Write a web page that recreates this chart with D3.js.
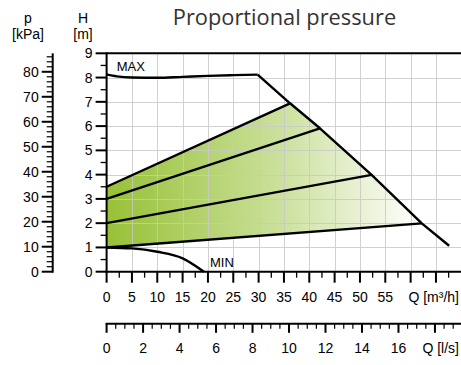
<!DOCTYPE html>
<html><head><meta charset="utf-8">
<script src="https://cdn.jsdelivr.net/npm/d3@7"></script>
<style>html,body{margin:0;padding:0;background:#fff;}svg{display:block;}</style>
</head><body>
<script>
// ---- data ----
const title = "Proportional pressure";
const flowTicks = [0,5,10,15,20,25,30,35,40,45,50,55];
const flowLpsTicks = [0,2,4,6,8,10,12,14,16];
const headTicks = [0,1,2,3,4,5,6,7,8,9];
const kpaTicks = [0,10,20,30,40,50,60,70,80];
// MAX curve (Q m3/h, H m)
const maxQ = [0,2,5,10,15,20,25,29.8,36.2,42.1,52.3,62.2,67.6];
const maxH = [8.13,8.05,8.0,7.99,8.03,8.07,8.1,8.12,6.94,5.91,3.99,1.99,1.07];
// MIN curve
const minQ = [0,5,10,15,19.2];
const minH = [1,0.96,0.82,0.55,0];
// proportional pressure lines: start and end points
const propStartH = [3.5,3.0,2.0,1.0];
const propEndQ = [36.2,42.1,52.3,62.2];
const propEndH = [6.94,5.91,3.99,1.99];

// ---- layout ----
const W=461,H=365;
const svg=d3.select("body").append("svg").attr("width",W).attr("height",H);
const x=d3.scaleLinear().domain([0,70]).range([106.6,461.3]);
const y=d3.scaleLinear().domain([0,9]).range([271.7,53.3]);
const yk=d3.scaleLinear().domain([0,87.4]).range([271.7,53.3]);
const xl=d3.scaleLinear().domain([0,70/3.6]).range([106.6,461.3]);
const font="'Liberation Sans', Arial, sans-serif";

// gradient
const defs=svg.append("defs");
const g=defs.append("linearGradient").attr("id","grad").attr("gradientUnits","userSpaceOnUse")
  .attr("x1",x(0)).attr("x2",x(62.2)).attr("y1",0).attr("y2",0);
g.append("stop").attr("offset","0%").attr("stop-color","#97c136");
g.append("stop").attr("offset","50%").attr("stop-color","#c6dd92");
g.append("stop").attr("offset","100%").attr("stop-color","#ffffff");

// fill polygon: top prop line, down the max descending segment, bottom prop line back
const iTop = maxQ.indexOf(propEndQ[0]);
const iBot = maxQ.indexOf(propEndQ[3]);
const poly=[[0,propStartH[0]]];
for(let i=iTop;i<=iBot;i++) poly.push([maxQ[i],maxH[i]]);
poly.push([0,propStartH[3]]);
const line=d3.line().x(d=>x(d[0])).y(d=>y(d[1]));
svg.append("path").attr("d",line(poly)+"Z").attr("fill","url(#grad)");

// grid
const gg=svg.append("g").attr("stroke","#c9c9c9").attr("stroke-width",1).attr("opacity",0.85);
d3.range(5,70,5).forEach(v=>gg.append("line").attr("x1",Math.round(x(v))+0.5).attr("x2",Math.round(x(v))+0.5).attr("y1",y(9)).attr("y2",y(0)));
d3.range(1,9,1).forEach(v=>gg.append("line").attr("x1",x(0)).attr("x2",W).attr("y1",Math.round(y(v))+0.5).attr("y2",Math.round(y(v))+0.5));

// curves
const curveLine=d3.line().x(d=>x(d[0])).y(d=>y(d[1])).curve(d3.curveMonotoneX);
svg.append("path").attr("d",curveLine(maxQ.slice(0,8).map((q,i)=>[q,maxH[i]])))
  .attr("fill","none").attr("stroke","#000").attr("stroke-width",2.4);
svg.append("path").attr("d",line(maxQ.slice(7).map((q,i)=>[q,maxH[i+7]])))
  .attr("fill","none").attr("stroke","#000").attr("stroke-width",2.4).attr("stroke-linejoin","round");
svg.append("path").attr("d",curveLine(minQ.map((q,i)=>[q,minH[i]])))
  .attr("fill","none").attr("stroke","#000").attr("stroke-width",2.4);
propStartH.forEach((h,i)=>{
  svg.append("path").attr("d",line([[0,h],[propEndQ[i],propEndH[i]]]))
    .attr("fill","none").attr("stroke","#000").attr("stroke-width",2.4);
});

// labels MAX / MIN
svg.append("text").attr("x",x(2)).attr("y",70.5).attr("font-family",font).attr("font-size",13).text("MAX");
svg.append("text").attr("x",x(20.4)).attr("y",267.3).attr("font-family",font).attr("font-size",13).text("MIN");

// frame: top line
svg.append("line").attr("x1",x(0)).attr("x2",W).attr("y1",y(9)).attr("y2",y(9)).attr("stroke","#000").attr("stroke-width",2);

// y axis (m)
const yAx=svg.append("g").attr("transform",`translate(${x(0)},0)`);
yAx.append("line").attr("x1",0).attr("x2",0).attr("y1",y(9)-1).attr("y2",y(0)+1).attr("stroke","#000").attr("stroke-width",2);
d3.range(0,9.01,0.5).forEach(v=>{
  const maj=Number.isInteger(v);
  yAx.append("line").attr("x1",maj?-11:-6).attr("x2",0).attr("y1",y(v)).attr("y2",y(v)).attr("stroke","#000").attr("stroke-width",maj?2:1.3);
});
headTicks.forEach(v=>yAx.append("text").attr("x",-14).attr("y",y(v)).attr("dy","0.36em").attr("text-anchor","end")
  .attr("font-family",font).attr("font-size",14).text(v));

// kPa axis
const kx=52.7;
const kAx=svg.append("g").attr("transform",`translate(${kx},0)`);
kAx.append("line").attr("x1",0).attr("x2",0).attr("y1",yk(87.4)).attr("y2",yk(0)+1).attr("stroke","#000").attr("stroke-width",2);
d3.range(0,87,2).forEach(v=>{
  const maj=v%10===0;
  kAx.append("line").attr("x1",maj?-11:-6).attr("x2",0).attr("y1",yk(v)).attr("y2",yk(v)).attr("stroke","#000").attr("stroke-width",maj?2:1.2);
});
kpaTicks.forEach(v=>kAx.append("text").attr("x",-14).attr("y",yk(v)).attr("dy","0.36em").attr("text-anchor","end")
  .attr("font-family",font).attr("font-size",14).text(v));

// axis titles
[["p",28,23],["[kPa]",28,39],["H",83,23],["[m]",83,39]].forEach(t=>
  svg.append("text").attr("x",t[1]).attr("y",t[2]).attr("text-anchor","middle").attr("font-family",font).attr("font-size",14).text(t[0]));

// x axis (m3/h)
const xAx=svg.append("g").attr("transform",`translate(0,${y(0)})`);
xAx.append("line").attr("x1",x(0)-1).attr("x2",W).attr("y1",0).attr("y2",0).attr("stroke","#000").attr("stroke-width",2);
d3.range(0,70,2.5).forEach(v=>{
  const maj=v%5===0;
  xAx.append("line").attr("x1",x(v)).attr("x2",x(v)).attr("y1",0).attr("y2",maj?11:6).attr("stroke","#000").attr("stroke-width",maj?2:1.3);
});
flowTicks.forEach(v=>xAx.append("text").attr("x",x(v)).attr("y",30).attr("text-anchor","middle")
  .attr("font-family",font).attr("font-size",14).text(v));
xAx.append("text").attr("x",459).attr("y",30).attr("text-anchor","end").attr("font-family",font).attr("font-size",14).text("Q [m³/h]");

// x axis (l/s)
const ly=323.8;
const lAx=svg.append("g").attr("transform",`translate(0,${ly})`);
lAx.append("line").attr("x1",xl(0)-1).attr("x2",W).attr("y1",0).attr("y2",0).attr("stroke","#000").attr("stroke-width",2);
d3.range(0,19.5,0.5).forEach(v=>{
  const maj=v%2===0;
  lAx.append("line").attr("x1",xl(v)).attr("x2",xl(v)).attr("y1",0).attr("y2",maj?9:5).attr("stroke","#000").attr("stroke-width",maj?2:1.2);
});
flowLpsTicks.forEach(v=>lAx.append("text").attr("x",xl(v)).attr("y",29.5).attr("text-anchor","middle")
  .attr("font-family",font).attr("font-size",14).text(v));
lAx.append("text").attr("x",459).attr("y",29.5).attr("text-anchor","end").attr("font-family",font).attr("font-size",14).text("Q [l/s]");

// title
svg.append("text").attr("x",284.5).attr("y",25).attr("text-anchor","middle").attr("font-family","'Open Sans', sans-serif")
  .attr("font-size",21.8).attr("fill","#333").text(title);
</script>
</body></html>
